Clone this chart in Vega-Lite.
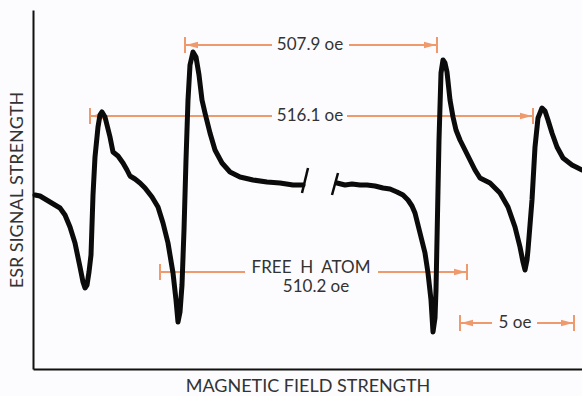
{
  "$schema": "https://vega.github.io/schema/vega-lite/v6.json",
  "width": 549,
  "height": 359,
  "autosize": {"type": "none"},
  "padding": {"left": 33, "top": 10, "right": 0, "bottom": 27},
  "background": "#fcfbfd",
  "config": {"view": {"stroke": null}},
  "datasets": {
    "signal": [
      {"seg": "a", "x": 2, "y": -5}, {"seg": "a", "x": 7, "y": -6}, {"seg": "a", "x": 17, "y": -12}, {"seg": "a", "x": 27, "y": -18},
      {"seg": "a", "x": 32, "y": -25}, {"seg": "a", "x": 37, "y": -37}, {"seg": "a", "x": 42, "y": -53}, {"seg": "a", "x": 47, "y": -77},
      {"seg": "a", "x": 50, "y": -92}, {"seg": "a", "x": 52, "y": -98}, {"seg": "a", "x": 54, "y": -95}, {"seg": "a", "x": 56, "y": -82},
      {"seg": "a", "x": 58, "y": -65}, {"seg": "a", "x": 60, "y": -5}, {"seg": "a", "x": 62, "y": 33}, {"seg": "a", "x": 65, "y": 63},
      {"seg": "a", "x": 67, "y": 75}, {"seg": "a", "x": 69, "y": 78}, {"seg": "a", "x": 72, "y": 73}, {"seg": "a", "x": 77, "y": 53},
      {"seg": "a", "x": 80, "y": 38}, {"seg": "a", "x": 85, "y": 34}, {"seg": "a", "x": 90, "y": 27}, {"seg": "a", "x": 94, "y": 20},
      {"seg": "a", "x": 97, "y": 14}, {"seg": "a", "x": 102, "y": 11}, {"seg": "a", "x": 107, "y": 7}, {"seg": "a", "x": 112, "y": 2},
      {"seg": "a", "x": 119, "y": -7}, {"seg": "a", "x": 125, "y": -17}, {"seg": "a", "x": 130, "y": -33}, {"seg": "a", "x": 135, "y": -53},
      {"seg": "a", "x": 140, "y": -83}, {"seg": "a", "x": 143, "y": -110}, {"seg": "a", "x": 145, "y": -132}, {"seg": "a", "x": 147, "y": -122},
      {"seg": "a", "x": 149, "y": -95}, {"seg": "a", "x": 151, "y": -40}, {"seg": "a", "x": 153, "y": 30}, {"seg": "a", "x": 155, "y": 90},
      {"seg": "a", "x": 157, "y": 125}, {"seg": "a", "x": 160, "y": 138}, {"seg": "a", "x": 163, "y": 133}, {"seg": "a", "x": 166, "y": 115},
      {"seg": "a", "x": 169, "y": 90}, {"seg": "a", "x": 172, "y": 77}, {"seg": "a", "x": 177, "y": 57}, {"seg": "a", "x": 182, "y": 40},
      {"seg": "a", "x": 189, "y": 27}, {"seg": "a", "x": 197, "y": 18}, {"seg": "a", "x": 207, "y": 13}, {"seg": "a", "x": 220, "y": 10},
      {"seg": "a", "x": 234, "y": 8}, {"seg": "a", "x": 247, "y": 7}, {"seg": "a", "x": 260, "y": 5}, {"seg": "a", "x": 270, "y": 5},
      {"seg": "b", "x": 304, "y": 7}, {"seg": "b", "x": 312, "y": 5}, {"seg": "b", "x": 319, "y": 6}, {"seg": "b", "x": 327, "y": 5},
      {"seg": "b", "x": 334, "y": 5}, {"seg": "b", "x": 342, "y": 4}, {"seg": "b", "x": 350, "y": 2}, {"seg": "b", "x": 357, "y": 1},
      {"seg": "b", "x": 364, "y": -2}, {"seg": "b", "x": 370, "y": -5}, {"seg": "b", "x": 375, "y": -10}, {"seg": "b", "x": 379, "y": -16},
      {"seg": "b", "x": 382, "y": -23}, {"seg": "b", "x": 387, "y": -43}, {"seg": "b", "x": 392, "y": -63}, {"seg": "b", "x": 395, "y": -83},
      {"seg": "b", "x": 398, "y": -110}, {"seg": "b", "x": 400, "y": -142}, {"seg": "b", "x": 402, "y": -128}, {"seg": "b", "x": 403, "y": -100},
      {"seg": "b", "x": 404, "y": -50}, {"seg": "b", "x": 405, "y": 0}, {"seg": "b", "x": 406, "y": 50}, {"seg": "b", "x": 408, "y": 117},
      {"seg": "b", "x": 410, "y": 130}, {"seg": "b", "x": 412, "y": 127}, {"seg": "b", "x": 414, "y": 118}, {"seg": "b", "x": 417, "y": 90},
      {"seg": "b", "x": 420, "y": 73}, {"seg": "b", "x": 423, "y": 60}, {"seg": "b", "x": 427, "y": 50}, {"seg": "b", "x": 432, "y": 40},
      {"seg": "b", "x": 437, "y": 30}, {"seg": "b", "x": 442, "y": 20}, {"seg": "b", "x": 447, "y": 12}, {"seg": "b", "x": 457, "y": 7},
      {"seg": "b", "x": 467, "y": -3}, {"seg": "b", "x": 475, "y": -17}, {"seg": "b", "x": 482, "y": -37}, {"seg": "b", "x": 487, "y": -57},
      {"seg": "b", "x": 490, "y": -72}, {"seg": "b", "x": 492, "y": -80}, {"seg": "b", "x": 494, "y": -70}, {"seg": "b", "x": 495, "y": -60},
      {"seg": "b", "x": 497, "y": -35}, {"seg": "b", "x": 499, "y": -10}, {"seg": "b", "x": 502, "y": 43}, {"seg": "b", "x": 505, "y": 72},
      {"seg": "b", "x": 509, "y": 82}, {"seg": "b", "x": 512, "y": 79}, {"seg": "b", "x": 515, "y": 70}, {"seg": "b", "x": 519, "y": 57},
      {"seg": "b", "x": 524, "y": 43}, {"seg": "b", "x": 530, "y": 32}, {"seg": "b", "x": 539, "y": 25}, {"seg": "b", "x": 545, "y": 22},
      {"seg": "b", "x": 549, "y": 20}
    ],
    "breaks": [
      {"seg": "s1", "x": 269, "y": -3}, {"seg": "s1", "x": 275, "y": 22},
      {"seg": "s2", "x": 299, "y": -5}, {"seg": "s2", "x": 305, "y": 17}
    ],
    "dimlines": [
      {"dim": "507.9", "x": 152, "x2": 239, "y": 145}, {"dim": "507.9", "x": 316, "x2": 404, "y": 145},
      {"dim": "516.1", "x": 57, "x2": 239, "y": 74}, {"dim": "516.1", "x": 314, "x2": 500, "y": 74},
      {"dim": "510.2", "x": 127, "x2": 212, "y": -82}, {"dim": "510.2", "x": 345, "x2": 434, "y": -82},
      {"dim": "5", "x": 427, "x2": 459, "y": -133}, {"dim": "5", "x": 504, "x2": 541, "y": -133}
    ],
    "dimends": [
      {"x": 152, "y": 145}, {"x": 404, "y": 145}, {"x": 57, "y": 74}, {"x": 500, "y": 74},
      {"x": 127, "y": -82}, {"x": 434, "y": -82}, {"x": 427, "y": -133}, {"x": 541, "y": -133}
    ],
    "arrows": [
      {"x": 159, "y": 145, "dir": "left"}, {"x": 397, "y": 145, "dir": "right"},
      {"x": 64, "y": 74, "dir": "left"}, {"x": 493, "y": 74, "dir": "right"},
      {"x": 427, "y": -82, "dir": "right"},
      {"x": 434, "y": -133, "dir": "left"}, {"x": 534, "y": -133, "dir": "right"}
    ],
    "labels": [
      {"text": "507.9 oe", "x": 277, "y": 145},
      {"text": "516.1 oe", "x": 277, "y": 74},
      {"text": "FREE\u00a0 H\u00a0 ATOM", "x": 278, "y": -78},
      {"text": "510.2 oe", "x": 283, "y": -97},
      {"text": "5 oe", "x": 482, "y": -133}
    ]
  },
  "encoding": {
    "x": {
      "field": "x", "type": "quantitative",
      "scale": {"domain": [0, 549], "nice": false, "zero": false},
      "axis": {"title": "MAGNETIC FIELD STRENGTH", "ticks": false, "labels": false, "grid": false,
        "domainColor": "#111111", "domainWidth": 2, "titlePadding": 8,
        "titleFont": "Lato", "titleFontWeight": 400, "titleFontSize": 18, "titleColor": "#333333"}
    },
    "y": {
      "field": "y", "type": "quantitative",
      "scale": {"domain": [-179, 180], "nice": false, "zero": false},
      "axis": {"title": "ESR SIGNAL STRENGTH", "ticks": false, "labels": false, "grid": false,
        "domainColor": "#111111", "domainWidth": 2, "titlePadding": 7,
        "titleFont": "Lato", "titleFontWeight": 400, "titleFontSize": 18, "titleColor": "#333333"}
    }
  },
  "layer": [
    {
      "data": {"values": [{}]},
      "mark": {"type": "rule", "color": "#111111", "strokeWidth": 2},
      "encoding": {"x": {"datum": 0}, "x2": {"datum": 549}, "y": {"datum": 180}}
    },
    {
      "data": {"name": "dimlines"},
      "mark": {"type": "rule", "color": "#ef9a6c", "strokeWidth": 2},
      "encoding": {"x2": {"field": "x2"}, "detail": {"field": "dim"}}
    },
    {
      "data": {"name": "dimends"},
      "mark": {"type": "point", "shape": "M0,-1L0,1", "size": 256, "filled": false, "stroke": "#ef9a6c", "strokeWidth": 2, "opacity": 1}
    },
    {
      "data": {"name": "arrows"},
      "mark": {"type": "point", "filled": true, "size": 144, "color": "#ef9a6c", "opacity": 1},
      "encoding": {
        "shape": {"field": "dir", "type": "nominal", "legend": null,
          "scale": {"domain": ["left", "right"], "range": ["M-1,0L1,-0.55L1,0.55Z", "M1,0L-1,-0.55L-1,0.55Z"]}}
      }
    },
    {
      "data": {"name": "labels"},
      "mark": {"type": "text", "font": "Lato", "fontWeight": 400, "fontSize": 17, "color": "#333333", "align": "center", "baseline": "middle"},
      "encoding": {"text": {"field": "text"}}
    },
    {
      "data": {"name": "breaks"},
      "mark": {"type": "line", "color": "#0b0b0b", "strokeWidth": 2.5},
      "encoding": {"detail": {"field": "seg"}}
    },
    {
      "data": {"name": "signal"},
      "mark": {"type": "line", "color": "#0b0b0b", "strokeWidth": 5, "strokeJoin": "round", "strokeCap": "round"},
      "encoding": {"detail": {"field": "seg"}}
    }
  ]
}
